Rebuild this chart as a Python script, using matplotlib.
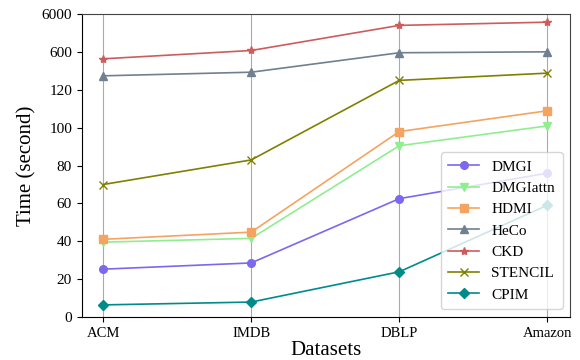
import numpy as np
import matplotlib
matplotlib.use("Agg")
import matplotlib.pyplot as plt

plt.rcParams['font.family'] = ['Liberation Serif', 'DejaVu Serif']

datasets = ["ACM", "IMDB", "DBLP", "Amazon"]
dmgi = [25.2, 28.5, 62.5, 76]
dmgiattn = [39.5, 41.5, 90.5, 101]
hdmi = [41, 44.8, 98, 109]
heco = [300, 346, 593, 654]
ckd = [516, 843, 4430, 4890]
stencil = [70, 83, 242, 334]
cpim = [6.3, 7.8, 23.8, 59]

yticks = [0, 20, 40, 60, 80, 100, 120, 600, 6000]

def fwd(v):
    v = np.asarray(v, dtype=float)
    return np.where(v <= 120, v,
           np.where(v <= 600, 120 + (v - 120) / 480 * 20,
                    140 + (v - 600) / 5400 * 20))

def inv(p):
    p = np.asarray(p, dtype=float)
    return np.where(p <= 120, p,
           np.where(p <= 140, 120 + (p - 120) / 20 * 480,
                    600 + (p - 140) / 20 * 5400))

fig = plt.figure(figsize=(5.8, 3.6), dpi=100)
ax = fig.add_axes([0.141, 0.12, 0.842, 0.84])
ax.set_yscale('function', functions=(fwd, inv))

series = [
    ("DMGI", dmgi, "#7B68EE", "o", 5.5),
    ("DMGIattn", dmgiattn, "#90EE90", "v", 5.5),
    ("HDMI", hdmi, "#F4A460", "s", 5.5),
    ("HeCo", heco, "#708090", "^", 5.5),
    ("CKD", ckd, "#CD5C5C", "*", 6),
    ("STENCIL", stencil, "#808000", "x", 5.5),
    ("CPIM", cpim, "#008B8B", "D", 5.5),
]
x = np.arange(len(datasets))
for name, vals, c, m, ms in series:
    ax.plot(x, vals, color=c, marker=m, markersize=ms, linewidth=1.2, label=name)

ax.set_ylim(0, 6000)
ax.set_yticks(yticks)
ax.set_yticklabels([str(t) for t in yticks])
ax.yaxis.set_minor_locator(matplotlib.ticker.NullLocator())
ax.set_xlim(-0.145, 3.155)
ax.set_xticks(x)
ax.set_xticklabels(datasets)
ax.tick_params(axis='both', labelsize=11)
ax.tick_params(axis='x', labelsize=10.5)
ax.grid(axis='x', color='#aaaaaa', linewidth=0.8)
ax.set_axisbelow(True)
for s in ['top', 'right']:
    ax.spines[s].set_color('#444444')
ax.set_xlabel("Datasets", fontsize=15, labelpad=1)
ax.set_ylabel("Time (second)", fontsize=15)
ax.legend(loc='lower right', fontsize=11, handlelength=2.0, labelspacing=0.5,
          borderpad=0.5)
fig.savefig("out.png", dpi=100)
